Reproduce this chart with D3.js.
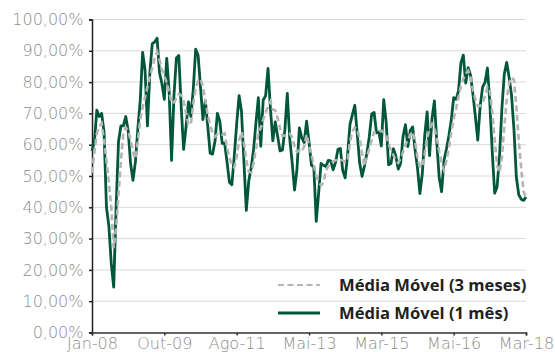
<!DOCTYPE html>
<html>
<head>
<meta charset="utf-8">
<script src="https://cdn.jsdelivr.net/npm/d3@7"></script>
<style>
  html, body { margin: 0; padding: 0; background: #fff; }
  svg { display: block; }
</style>
</head>
<body>
<svg id="chart" width="555" height="352"></svg>
<script>
// Axis labels shown along the bottom, one every 30 observations
const tickLabels = ["Jan-08", "Out-09", "Ago-11", "Mai-13", "Mar-15", "Mai-16", "Mar-18"];
const tickStep = 30;
const yTicks = [0, 10, 20, 30, 40, 50, 60, 70, 80, 90, 100];

// Média Móvel (1 mês), in %
const mm1 = [
  58, 61, 71, 69, 70, 64, 40, 34, 22, 14.5,
  40, 61, 66, 66, 69, 64.5, 54, 48.6, 54.5, 65,
  74, 89.5, 83.8, 66, 83, 92.3, 92.8, 94, 83, 79.5,
  74.5, 87.6, 77, 55, 75.8, 87.7, 88.5, 72, 58.5, 65.7,
  73.7, 69, 77.7, 90.5, 88.6, 78.5, 68, 74, 66, 57.3,
  57, 61, 70, 67.5, 60.4, 60.5, 54.5, 48, 47.2, 56.3,
  66.6, 75.7, 70.6, 54.8, 39, 48.3, 52.6, 58.4, 67, 75,
  59.5, 74.3, 75.6, 84.4, 71.5, 61.2, 67.3, 62.7, 58, 58.3,
  64.8, 76.4, 62, 54.4, 45.5, 52, 65.4, 62.2, 60.7, 67.5,
  61, 53.5, 52.9, 35.5, 44.5, 54, 53.4, 53, 55, 54.8,
  52, 54.3, 58.5, 58.8, 51.7, 49.4, 56.7, 66.5, 69.6, 72.6,
  63.6, 54.2, 49.9, 53.2, 57.3, 62.5, 69.8, 70.3, 63.8, 64,
  59.6, 74.4, 67.2, 53.6, 54, 58.7, 56.4, 52.2, 54, 62.6,
  66.4, 59.4, 64.5, 65.7, 58.3, 52.5, 44.4, 50.8, 63, 70.5,
  56.5, 68.2, 74, 60.8, 49.5, 45, 55, 58.6, 62.8, 67.8,
  75, 74.5, 77.2, 86.1, 88.6, 79.7, 84.6, 82.2, 76.1, 69,
  61.5, 72.3, 78.4, 79.9, 84.5, 73.4, 57.8, 44.5, 46.5, 56,
  71.5, 82.6, 86.3, 81.5, 75.8, 65, 49.6, 44, 42.6, 42.2,
  43.3
];

// Média Móvel (3 meses), in %
const mm3 = [
  51, 57.7, 63.6, 65.8, 66.8, 61.3, 55, 48, 40, 27,
  33.4, 44.3, 54.8, 63.6, 65.5, 64.5, 61.5, 57.8, 55.5, 61,
  68.1, 72, 75.1, 78.5, 81.7, 84.7, 87.6, 89.6, 87.1, 84,
  81.9, 79.9, 76.8, 73.3, 73.6, 74.8, 76.2, 75.8, 73.9, 70.2,
  66.5, 66.4, 73.2, 77.9, 80.4, 81, 78.6, 74.2, 69.5, 66.2,
  63.8, 62.6, 63.4, 63.6, 63.2, 63.6, 59, 55.8, 53.7, 52.7,
  56, 61.3, 64.1, 60.7, 55, 51.5, 51.1, 54.1, 58.7, 63.8,
  65.4, 68, 70.3, 72.1, 73.8, 71.2, 71, 68.4, 65.2, 62.8,
  62.9, 63.6, 63.6, 62.4, 59.5, 57.7, 58.2, 57.7, 59.5, 63.2,
  59.9, 56.7, 53.6, 50, 48.2, 47, 47.9, 51.7, 53.1, 53.9,
  54.6, 55, 55.5, 55.2, 55, 54.5, 55, 61, 64.2, 65.5,
  64.9, 62, 57.3, 53.2, 56.1, 58.7, 61.5, 64, 63.8, 64.4,
  64.5, 63.8, 63, 60.2, 58.2, 56.7, 55.1, 54.2, 55.6, 57.6,
  60, 61.5, 63.2, 64.1, 61, 55.8, 53, 52.9, 57.3, 62.1,
  65, 66.6, 65.3, 62.1, 57.8, 54, 51.8, 54.8, 58.9, 64,
  68.3, 71.5, 75.4, 78.7, 81, 82.7, 83.6, 81.5, 77.4, 74.5,
  72.4, 72.4, 73.4, 75.5, 78.5, 77.2, 70.4, 61.6, 53.4, 51.1,
  55.9, 65.7, 74.4, 79.7, 81.5, 80.7, 72.1, 61.3, 52.5, 45.1,
  43
];

const seriesNames = ["Média Móvel (3 meses)", "Média Móvel (1 mês)"];

const svg = d3.select("#chart");
const margin = { left: 92, right: 29, top: 19.5, bottom: 19.5 };
const W = 555, H = 352;

const x = d3.scaleLinear()
  .domain([0, mm1.length - 1])
  .range([margin.left, W - margin.right]);
const y = d3.scaleLinear()
  .domain([0, 100])
  .range([H - margin.bottom, margin.top]);

const tickFont = "'DejaVu Sans', sans-serif";
const legendFont = "'Open Sans', 'Noto Sans', sans-serif";

// horizontal gridlines
svg.append("g")
  .selectAll("line")
  .data(yTicks.filter(d => d > 0))
  .join("line")
  .attr("x1", x(0)).attr("x2", x(mm1.length - 1))
  .attr("y1", d => y(d)).attr("y2", d => y(d))
  .attr("stroke", "#d9d9d9")
  .attr("stroke-width", 1);

// y axis
const yAxis = svg.append("g")
  .attr("transform", `translate(${x(0)},0)`)
  .call(d3.axisLeft(y)
    .tickValues(yTicks)
    .tickSize(3)
    .tickPadding(5.5)
    .tickFormat(d => d.toFixed(2).replace(".", ",") + "%"));
yAxis.select(".domain").attr("stroke", "#222").attr("stroke-width", 1.5);
yAxis.selectAll(".tick line").attr("stroke", "#222").attr("stroke-width", 1.5);
yAxis.selectAll(".tick text")
  .attr("fill", "#8c8c8c")
  .style("font-family", tickFont)
  .style("font-weight", 300)
  .style("font-size", "16px");

// x axis
const xTickIdx = tickLabels.map((_, i) => i * tickStep);
const xAxis = svg.append("g")
  .attr("transform", `translate(0,${y(0)})`)
  .call(d3.axisBottom(x)
    .tickValues(xTickIdx)
    .tickSize(3)
    .tickPadding(2.5)
    .tickFormat((d, i) => tickLabels[i]));
xAxis.select(".domain").attr("stroke", "#333").attr("stroke-width", 1.5);
xAxis.selectAll(".tick line").attr("stroke", "#333").attr("stroke-width", 1.5);
xAxis.selectAll(".tick text")
  .attr("fill", "#8c8c8c")
  .style("font-family", tickFont)
  .style("font-weight", 300)
  .style("font-size", "16px");

const line = d3.line()
  .x((d, i) => x(i))
  .y(d => y(d));

// 1-month moving average
svg.append("path")
  .datum(mm1)
  .attr("fill", "none")
  .attr("stroke", "#00573a")
  .attr("stroke-width", 2.8)
  .attr("stroke-linejoin", "round")
  .attr("d", line);

// 3-month moving average (dashed)
svg.append("path")
  .datum(mm3)
  .attr("fill", "none")
  .attr("stroke", "#b4b4b4")
  .attr("stroke-width", 2.6)
  .attr("stroke-dasharray", "6,3.5")
  .attr("d", line);

// legend
const legend = svg.append("g");
const legendItems = [
  { name: seriesNames[0], color: "#b4b4b4", dash: "6,3.5", width: 2, yPos: 285 },
  { name: seriesNames[1], color: "#00573a", dash: null, width: 3, yPos: 313 }
];
legendItems.forEach(it => {
  legend.append("line")
    .attr("x1", 278).attr("x2", 320)
    .attr("y1", it.yPos).attr("y2", it.yPos)
    .attr("stroke", it.color)
    .attr("stroke-width", it.width)
    .attr("stroke-dasharray", it.dash);
  legend.append("text")
    .attr("x", 339)
    .attr("y", it.yPos)
    .attr("dy", "0.36em")
    .attr("fill", "#231f20")
    .style("font-family", legendFont)
    .style("font-weight", 700)
    .style("font-size", "16.6px")
    .text(it.name);
});
</script>
</body>
</html>
